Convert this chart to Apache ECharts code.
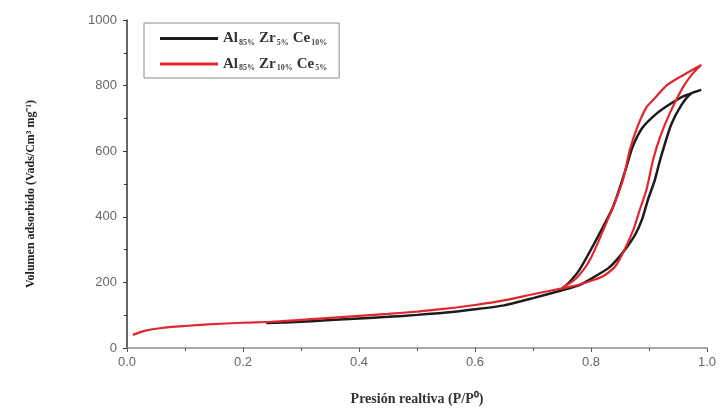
<!DOCTYPE html>
<html>
<head>
<meta charset="utf-8">
<script src="https://cdn.jsdelivr.net/npm/echarts@6/dist/echarts.min.js"></script>
<style>
  html, body { margin: 0; padding: 0; background: #fff; }
  #chart { width: 720px; height: 408px; }
</style>
</head>
<body>
<div id="chart"></div>
<script>
// legend labels: [main, subscript] parts
const labelA = [['Al', '85%'], ['Zr', '5%'], ['Ce', '10%']]
const labelB = [['Al', '85%'], ['Zr', '10%'], ['Ce', '5%']]

// black sample: adsorption branch then desorption branch, [P/P0, volume]
const blackAds = [
  [0.24, 76], [0.3, 80], [0.35, 85], [0.4, 90], [0.45, 95], [0.5, 101], [0.55, 108],
  [0.6, 118], [0.65, 130], [0.7, 152], [0.75, 176], [0.78, 192], [0.803, 214],
  [0.831, 245], [0.853, 287], [0.876, 345], [0.888, 392], [0.898, 451], [0.91, 512],
  [0.92, 579], [0.938, 680], [0.955, 738], [0.972, 775], [0.99, 787]
]
const blackDes = [
  [0.99, 787], [0.96, 768], [0.933, 740], [0.91, 710], [0.888, 670], [0.871, 610],
  [0.859, 540], [0.838, 430], [0.809, 330], [0.78, 238], [0.765, 205], [0.75, 180]
]

// red sample
const redAds = [
  [0.01, 40], [0.03, 52], [0.06, 61], [0.1, 67], [0.14, 72], [0.2, 77], [0.25, 80],
  [0.3, 86], [0.35, 92], [0.4, 98], [0.45, 104], [0.5, 111], [0.55, 120], [0.6, 131],
  [0.65, 145], [0.7, 164], [0.75, 182], [0.78, 193], [0.8, 205], [0.82, 218],
  [0.84, 245], [0.85, 272], [0.873, 360], [0.884, 421], [0.896, 485], [0.907, 573],
  [0.919, 643], [0.936, 716], [0.959, 796], [0.976, 838], [0.99, 863]
]
const redDes = [
  [0.99, 863], [0.953, 826], [0.93, 800], [0.907, 756], [0.896, 735], [0.88, 674],
  [0.867, 604], [0.855, 512], [0.838, 430], [0.816, 338], [0.8, 275], [0.787, 238],
  [0.77, 205], [0.75, 184]
]

const xTicks = { min: 0, max: 1, interval: 0.2 }
const yTicks = { min: 0, max: 1000, interval: 200 }

function legendText(parts) {
  return parts.map(p => '{m|' + p[0] + '}{s|' + p[1] + '}').join('')
}
const nameA = 'A'
const nameB = 'B'

const chart = echarts.init(document.getElementById('chart'))
chart.setOption({
  animation: false,
  grid: { left: 127, right: 13, top: 20, bottom: 60, outerBoundsMode: 'none' },
  legend: {
    left: 144, top: 23, orient: 'vertical',
    data: [nameA, nameB],
    borderColor: '#8a8a8a', borderWidth: 1,
    padding: [8, 12, 6, 16], itemGap: 10,
    itemWidth: 58, itemHeight: 14,
    icon: 'path://M0,6 L58,6 L58,9 L0,9 Z',
    formatter: n => n === nameA ? legendText(labelA) : legendText(labelB),
    textStyle: {
      rich: {
        m: { fontFamily: 'Liberation Serif', fontWeight: 'bold', fontSize: 15, color: '#333' },
        s: { fontFamily: 'Liberation Serif', fontWeight: 'bold', fontSize: 8, color: '#444', verticalAlign: 'bottom', padding: [8, 4, 0, 1] }
      }
    }
  },
  xAxis: {
    type: 'value', ...xTicks,
    name: 'Presión realtiva (P/P⁰)', nameLocation: 'middle', nameGap: 44,
    nameTextStyle: { fontFamily: 'Liberation Serif', fontWeight: 'bold', fontSize: 14, color: '#333' },
    axisLine: { lineStyle: { color: '#8c8c8c', width: 1.5 } },
    axisTick: { lineStyle: { color: '#555' }, length: 4 },
    minorTick: { show: true, splitNumber: 2, length: 3, lineStyle: { color: '#555' } },
    axisLabel: { color: '#666', fontSize: 13, fontFamily: 'Liberation Sans', margin: 8,
      formatter: v => v.toFixed(1) },
    splitLine: { show: false }
  },
  yAxis: {
    type: 'value', ...yTicks,
    name: 'Volumen adsorbido (Vads/Cm³ mg⁻¹)', nameLocation: 'middle', nameGap: 90,
    nameTextStyle: { fontFamily: 'Liberation Serif', fontWeight: 'bold', fontSize: 12, color: '#222',
      padding: [0, 20, 0, 0] },
    axisLine: { show: true, lineStyle: { color: '#333', width: 1.5 } },
    axisTick: { show: true, lineStyle: { color: '#333' }, length: 4 },
    minorTick: { show: true, splitNumber: 2, length: 3, lineStyle: { color: '#333' } },
    axisLabel: { color: '#666', fontSize: 13, fontFamily: 'Liberation Sans', margin: 10,
      formatter: v => String(v) },
    splitLine: { show: false }
  },
  series: [
    {
      name: nameA, type: 'line', data: blackAds.concat(blackDes.slice(1)),
      showSymbol: false, smooth: 0.2, z: 2,
      lineStyle: { color: '#1c1c1c', width: 2.5 }, itemStyle: { color: '#1c1c1c' }
    },
    {
      name: nameB, type: 'line', data: redAds.concat(redDes.slice(1)),
      showSymbol: false, smooth: 0.2, z: 3,
      lineStyle: { color: '#e3262e', width: 2.2 }, itemStyle: { color: '#e3262e' }
    }
  ]
})
</script>
</body>
</html>
